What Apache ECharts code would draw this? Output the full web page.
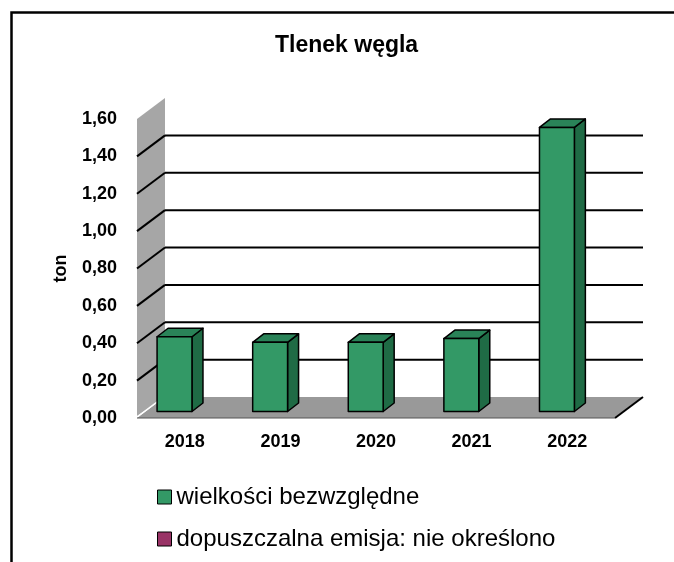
<!DOCTYPE html>
<html>
<head>
<meta charset="utf-8">
<script src="https://cdn.jsdelivr.net/npm/echarts@6/dist/echarts.min.js"></script>
<style>
html,body{margin:0;padding:0;background:#fff;}
#chart{width:674px;height:562px;}
</style>
</head>
<body>
<div id="chart"></div>
<script>
// ---- data ----
const years = ['2018', '2019', '2020', '2021', '2022'];
const absValues = [0.40, 0.37, 0.37, 0.39, 1.52];
const limitValues = [];
const yTicks = [0, 0.2, 0.4, 0.6, 0.8, 1.0, 1.2, 1.4, 1.6];
const seriesNames = ['wielkości bezwzględne', 'dopuszczalna emisja: nie określono'];
const titleText = 'Tlenek węgla';
const yAxisName = 'ton';

// ---- style constants ----
const FONT = '"Liberation Sans", Arial, sans-serif';
const DX = 28, DY = -21;           // depth of the 3D box
const GREEN = '#339966', GREEN_SIDE = '#1f6b45', GREEN_TOP = '#2a8358';
const PURPLE = '#993366';
const yMax = yTicks[yTicks.length - 1];
const gridValues = yTicks.slice(1, -1);

const chart = echarts.init(document.getElementById('chart'), null, {renderer: 'canvas'});

function frame(api) {
  const bw = api.size([1, 0])[0];
  const p0 = api.coord([0, 0]);
  const xL = p0[0] - bw / 2;
  const y0 = p0[1];
  const xR = api.coord([years.length - 1, 0])[0] + bw / 2;
  const yTop = api.coord([0, yMax])[1];
  return {bw, xL, xR, y0, yTop};
}

function renderWalls(params, api) {
  const f = frame(api);
  return {
    type: 'group',
    children: [
      {type: 'polygon', shape: {points: [[f.xL, f.yTop], [f.xL + DX, f.yTop + DY], [f.xL + DX, f.y0 + DY], [f.xL, f.y0 - 2]]},
        style: {fill: '#a6a6a6'}},
      {type: 'polygon', shape: {points: [[f.xL, f.y0], [f.xR, f.y0], [f.xR + DX, f.y0 + DY], [f.xL + DX, f.y0 + DY]]},
        style: {fill: '#999999'}},
      {type: 'line', shape: {x1: f.xL, y1: f.y0 - 1, x2: f.xL + DX, y2: f.y0 + DY - 1}, style: {stroke: '#ffffff', lineWidth: 1.5}},
      {type: 'line', shape: {x1: f.xR, y1: f.y0, x2: f.xR + DX, y2: f.y0 + DY}, style: {stroke: '#000', lineWidth: 2}},
      {type: 'line', shape: {x1: f.xL, y1: f.y0, x2: f.xR, y2: f.y0}, style: {stroke: '#555', lineWidth: 1}}
    ]
  };
}

function renderGrid(params, api) {
  const f = frame(api);
  const y = api.coord([0, api.value(1)])[1];
  return {
    type: 'group',
    children: [
      {type: 'line', shape: {x1: f.xL, y1: y, x2: f.xL + DX, y2: y + DY}, style: {stroke: '#000', lineWidth: 2}},
      {type: 'line', shape: {x1: f.xL + DX, y1: y + DY, x2: f.xR + DX, y2: y + DY}, style: {stroke: '#000', lineWidth: 2}}
    ]
  };
}

function renderBar(params, api) {
  const i = api.value(0), v = api.value(1);
  const top = api.coord([i, v]);
  const base = api.coord([i, 0]);
  const bw = api.size([1, 0])[0];
  const xc = top[0];
  const x0 = xc - bw * 0.29, x1 = xc + bw * 0.075;
  const yt = top[1] - 6.5, yb = base[1] - 6.5;
  const dx = 11, dy = -8.5;
  const st = {stroke: '#000', lineWidth: 1.5, lineJoin: 'round'};
  return {
    type: 'group',
    children: [
      {type: 'polygon', shape: {points: [[x1, yt], [x1 + dx, yt + dy], [x1 + dx, yb + dy], [x1, yb]]},
        style: Object.assign({fill: GREEN_SIDE}, st)},
      {type: 'polygon', shape: {points: [[x0, yt], [x1, yt], [x1 + dx, yt + dy], [x0 + dx, yt + dy]]},
        style: Object.assign({fill: GREEN_TOP}, st)},
      {type: 'rect', shape: {x: x0, y: yt, width: x1 - x0, height: yb - yt},
        style: Object.assign({fill: GREEN}, st)}
    ]
  };
}

const option = {
  backgroundColor: '#ffffff',
  animation: false,
  title: {
    text: titleText,
    left: 275,
    top: 34,
    padding: 0,
    textStyle: {fontFamily: FONT, fontWeight: 'bold', fontSize: 23, color: '#000'}
  },
  graphic: [
    {type: 'rect', left: 9, top: 10, shape: {x: 0, y: 0, width: 720, height: 620},
      style: {fill: 'none', stroke: '#000', lineWidth: 2.5}, silent: true, z: 100}
  ],
  legend: {
    orient: 'vertical',
    left: 152,
    top: 480,
    itemWidth: 14,
    itemHeight: 14,
    itemGap: 18,
    textStyle: {fontFamily: FONT, fontSize: 24, color: '#000'},
    data: [
      {name: seriesNames[0], icon: 'rect', itemStyle: {color: GREEN, borderColor: '#000', borderWidth: 1}},
      {name: seriesNames[1], icon: 'rect', itemStyle: {color: PURPLE, borderColor: '#000', borderWidth: 1}}
    ]
  },
  grid: {left: 137, right: 59, top: 119, bottom: 144, containLabel: false},
  xAxis: {
    type: 'category',
    data: years,
    boundaryGap: true,
    axisLine: {show: false},
    axisTick: {show: false},
    splitLine: {show: false},
    axisLabel: {margin: 15, fontFamily: FONT, fontWeight: 'bold', fontSize: 18, color: '#000'}
  },
  yAxis: {
    type: 'value',
    min: 0,
    max: yMax,
    interval: 0.2,
    name: yAxisName,
    nameLocation: 'middle',
    nameRotate: 90,
    nameGap: 67,
    nameTextStyle: {fontFamily: FONT, fontWeight: 'bold', fontSize: 18, color: '#000'},
    axisLine: {show: false},
    axisTick: {show: false},
    splitLine: {show: false},
    axisLabel: {
      margin: 20,
      fontFamily: FONT, fontWeight: 'bold', fontSize: 18, color: '#000',
      formatter: v => v.toFixed(2).replace('.', ',')
    }
  },
  series: [
    {type: 'custom', name: '_walls', renderItem: renderWalls, data: [[0, 0]], z: 1, silent: true, clip: false},
    {type: 'custom', name: '_grid', renderItem: renderGrid, data: gridValues.map(v => [0, v]), z: 2, silent: true, clip: false},
    {type: 'custom', name: seriesNames[0], renderItem: renderBar, itemStyle: {color: GREEN},
      data: absValues.map((v, i) => [i, v]), encode: {x: 0, y: 1}, z: 3, clip: false},
    {type: 'bar', name: seriesNames[1], itemStyle: {color: PURPLE}, data: limitValues}
  ]
};
chart.setOption(option);
</script>
</body>
</html>
